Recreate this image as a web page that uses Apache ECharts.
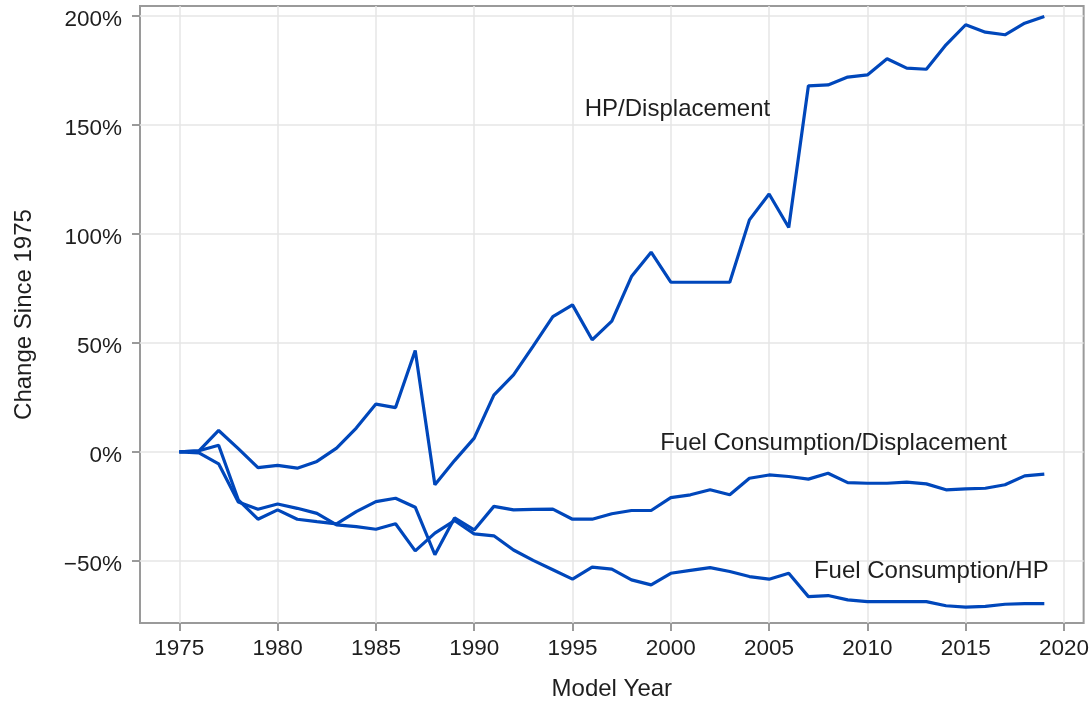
<!DOCTYPE html>
<html>
<head>
<meta charset="utf-8">
<title>Change Since 1975</title>
<script src="https://cdn.jsdelivr.net/npm/echarts@6/dist/echarts.min.js"></script>
<style>
  html, body { margin: 0; padding: 0; background: #ffffff; }
  #chart { width: 1092px; height: 706px; }
</style>
</head>
<body>
<div id="chart"></div>
<script>
// Model years 1975-2019
const years = [];
for (let y = 1975; y <= 2019; y++) years.push(y);

// Percent change since 1975
const hpPerDisplacement = [
  0, 0.5, 9.8, 1.5, -7.2, -6.2, -7.5, -4.4, 1.7, 10.9,
  21.9, 20.3, 46.5, -15.1, -4, 6.3, 26, 35.3, 48.5, 62,
  67.4, 51.4, 60, 80.4, 91.6, 77.8, 77.8, 77.8, 77.8, 106.4,
  118.3, 102.9, 167.9, 168.3, 171.9, 172.9, 180.3, 176, 175.5, 186.7,
  195.9, 192.5, 191.3, 196.6, 199.7
];
const fuelPerDisplacement = [
  0, 0.5, 3, -22, -30.9, -26.6, -30.9, -32, -33, -27.4,
  -22.8, -21.3, -25.4, -47.2, -30.3, -35.8, -25, -26.6, -26.4, -26.3,
  -30.9, -30.9, -28.4, -26.9, -26.9, -21, -19.7, -17.4, -19.7, -12.1,
  -10.6, -11.3, -12.5, -9.8, -14.1, -14.4, -14.4, -13.9, -14.7, -17.4,
  -17, -16.7, -15.1, -11, -10.2
];
const fuelPerHp = [
  0, -0.5, -5.5, -23, -26.3, -23.9, -25.9, -28.2, -33.5, -34.3,
  -35.5, -33, -45.4, -37.3, -31.5, -37.6, -38.5, -45, -49.8, -54.1,
  -58.4, -52.9, -53.8, -58.7, -61, -55.7, -54.4, -53.1, -54.9, -57.2,
  -58.4, -55.7, -66.4, -65.9, -67.9, -68.7, -68.7, -68.7, -68.7, -70.6,
  -71.2, -70.9, -69.9, -69.6, -69.6
];

const xTicks = [1975, 1980, 1985, 1990, 1995, 2000, 2005, 2010, 2015, 2020];
const yTicks = [-50, 0, 50, 100, 150, 200];

const seriesNames = ['HP/Displacement', 'Fuel Consumption/Displacement', 'Fuel Consumption/HP'];
const seriesValues = [hpPerDisplacement, fuelPerDisplacement, fuelPerHp];

// Where each series name is written, in axis units [year, percent]
const labelAnchors = [
  [2000.34, 157.0],
  [2008.28, 4.1],
  [2013.25, -54.6]
];

const FONT = '"Liberation Sans", Arial, Helvetica, sans-serif';
const LINE_COLOR = '#0047bb';
const FRAME_COLOR = '#9a9a9a';
const TEXT_COLOR = '#1e1e1e';

const chart = echarts.init(document.getElementById('chart'), null, { renderer: 'canvas' });

const option = {
  animation: false,
  backgroundColor: '#ffffff',
  grid: {
    left: 140, right: 8, top: 6, bottom: 82.7,
    show: true,
    borderColor: FRAME_COLOR,
    borderWidth: 2,
    backgroundColor: 'transparent'
  },
  xAxis: {
    type: 'value',
    position: 'bottom',
    min: 1973,
    max: 2021,
    name: 'Model Year',
    nameLocation: 'middle',
    nameGap: 54,
    nameTextStyle: { fontFamily: FONT, fontSize: 24, color: TEXT_COLOR },
    axisLine: { show: false, onZero: false },
    axisTick: {
      show: true, length: 8, inside: false,
      lineStyle: { color: FRAME_COLOR, width: 2 },
      customValues: xTicks
    },
    axisLabel: {
      fontFamily: FONT, fontSize: 22.5, color: TEXT_COLOR, margin: 14,
      customValues: xTicks,
      formatter: v => String(v)
    },
    splitLine: { show: true, lineStyle: { color: '#e6e6e6', width: 1.5 } }
  },
  yAxis: {
    type: 'value',
    position: 'left',
    min: -78.5,
    max: 204.5,
    name: 'Change Since 1975',
    nameLocation: 'middle',
    nameGap: 104,
    nameTextStyle: { fontFamily: FONT, fontSize: 24, color: TEXT_COLOR },
    axisLine: { show: false, onZero: false },
    axisTick: {
      show: true, length: 8, inside: false,
      lineStyle: { color: FRAME_COLOR, width: 2 },
      customValues: yTicks
    },
    axisLabel: {
      color: TEXT_COLOR, margin: 18,
      customValues: yTicks,
      formatter: v => '{t|' + (v < 0 ? '\u2212' + Math.abs(v) : String(v)) + '%}',
      rich: {
        t: {
          fontFamily: FONT, fontSize: 22.5, color: TEXT_COLOR,
          padding: [7, 0, 0, 0]
        }
      }
    },
    splitLine: { show: true, lineStyle: { color: '#e6e6e6', width: 1.5 } }
  },
  series: seriesNames.map((name, i) => ({
    name: name,
    type: 'line',
    showSymbol: false,
    symbol: 'none',
    data: years.map((yr, j) => [yr, seriesValues[i][j]]),
    lineStyle: { color: LINE_COLOR, width: 3.2 },
    emphasis: { disabled: true }
  }))
};

chart.setOption(option);

// Series names written beside their lines
const graphics = seriesNames.map((name, i) => {
  const p = chart.convertToPixel({ gridIndex: 0 }, labelAnchors[i]);
  return {
    type: 'text',
    x: p[0],
    y: p[1],
    style: {
      text: name,
      fontFamily: FONT,
      fontSize: 24,
      fill: TEXT_COLOR,
      align: 'center',
      verticalAlign: 'middle'
    },
    z: 10
  };
});
chart.setOption({ graphic: graphics });
</script>
</body>
</html>
